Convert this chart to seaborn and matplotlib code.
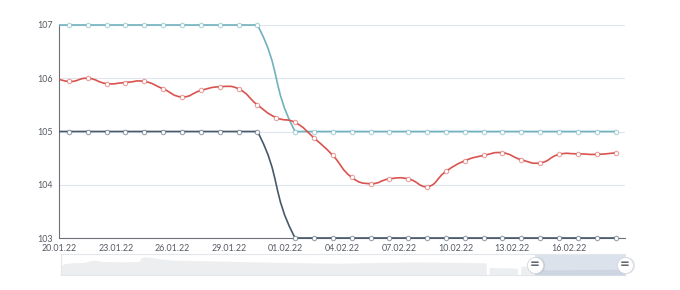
import numpy as np
import pandas as pd
import matplotlib
matplotlib.use("Agg")
import matplotlib.pyplot as plt
import matplotlib.dates as mdates
from matplotlib.path import Path
from matplotlib.patches import PathPatch, Rectangle
import seaborn as sns

# ---------------- data ----------------
dates = pd.date_range("2022-01-19 12:00", periods=31, freq="D")

red_values = [106.05, 105.94, 106.00, 105.90, 105.92, 105.94, 105.80, 105.65,
              105.77, 105.84, 105.80, 105.50, 105.26, 105.17, 104.88, 104.55,
              104.14, 104.02, 104.11, 104.11, 103.96, 104.25, 104.45, 104.55,
              104.60, 104.47, 104.41, 104.57, 104.58, 104.57, 104.60]

teal_values = [107, 107, 107, 107, 107, 107, 107, 107, 107, 107, 107, 107,
               np.nan,
               105, 105, 105, 105, 105, 105, 105, 105, 105, 105, 105, 105,
               105, 105, 105, 105, 105, 105]

dark_values = [105, 105, 105, 105, 105, 105, 105, 105, 105, 105, 105, 105,
               np.nan,
               103, 103, 103, 103, 103, 103, 103, 103, 103, 103, 103, 103,
               103, 103, 103, 103, 103, 103]

y_ticks = [103, 104, 105, 106, 107]
x_ticks = pd.date_range("2022-01-20", "2022-02-19", freq="3D")
x_tick_labels = ["20.01.22", "23.01.22", "26.01.22", "29.01.22", "01.02.22",
                 "04.02.22", "07.02.22", "10.02.22", "13.02.22", "16.02.22", ""]

# full-history data shadow of the zoom slider (relative time, value)
shadow_pos = [0.000, 0.007, 0.021, 0.039, 0.051, 0.057, 0.066, 0.074, 0.110,
              0.140, 0.143, 0.152, 0.176, 0.199, 0.259, 0.317, 0.376, 0.436,
              0.495, 0.564, 0.624, 0.684, 0.755, 0.757, 0.760, 0.766, 0.810,
              0.812, 0.816, 0.823, 0.840, 0.862, 0.986, 1.000]
shadow_val = [8.3, 11.0, 11.7, 12.0, 13.3, 14.3, 14.0, 13.0, 12.7,
              13.0, 17.0, 17.7, 15.7, 14.3, 13.7, 13.0, 12.3, 11.7,
              11.3, 12.0, 12.5, 12.3, 11.7, np.nan, 7.0, 7.0, 6.3,
              np.nan, 8.3, 8.3, 7.0, 5.0, 5.7, 5.7]
zoom_start, zoom_end = 84.0, 100.0   # percent

series = [("teal", teal_values, "#6fb1bd"),
          ("dark", dark_values, "#46596b"),
          ("red", red_values, "#d9534f")]

# ---------------- style ----------------
sns.set_theme(style="white")
plt.rcParams["font.family"] = ["Lato", "DejaVu Sans"]

W, H = 680, 290
fig = plt.figure(figsize=(W / 100, H / 100), dpi=100)
ax = fig.add_axes([59.5 / W, 1 - 238 / H, (625 - 59.5) / W, (238 - 25) / H])

ax.set_xlim(pd.Timestamp("2022-01-20"), pd.Timestamp("2022-02-19"))
ax.set_ylim(103, 107)

axis_col = "#6e7079"
for s in ["top", "right"]:
    ax.spines[s].set_visible(False)
for s in ["left", "bottom"]:
    ax.spines[s].set_color(axis_col)
    ax.spines[s].set_linewidth(0.8)
ax.set_yticks(y_ticks)
ax.set_yticklabels([str(v) for v in y_ticks])
ax.set_xticks(x_ticks)
ax.set_xticklabels(x_tick_labels)
ax.tick_params(axis="both", direction="out", length=3, width=0.75,
               color=axis_col, labelcolor="#555a62", labelsize=6.4, pad=1.5)
ax.grid(axis="y", color="#e0e6f1", linewidth=0.8)
ax.grid(axis="x", visible=False)
ax.set_facecolor("white")


def smooth_path(xs, ys, smooth=0.5):
    """ECharts (v4) style smoothing with bounding-box constraint, in display space."""
    pts = ax.transData.transform(np.column_stack([xs, ys]))
    bbmin = pts.min(axis=0)
    bbmax = pts.max(axis=0)
    n = len(pts)
    verts = [pts[0]]
    codes = [Path.MOVETO]
    cp0 = pts[0].copy()
    for i in range(1, n):
        p = pts[i]
        if i < n - 1:
            prev = pts[i - 1]
            nxt = pts[i + 1]
            v = nxt - prev
            lp = np.hypot(*(p - prev))
            ln = np.hypot(*(nxt - p))
            r = ln / (ln + lp)
            cp1 = p - v * smooth * (1 - r)
        else:
            v = np.zeros(2)
            r = 0.5
            cp1 = p.copy()
        cp0 = np.clip(cp0, bbmin, bbmax)
        cp1 = np.clip(cp1, bbmin, bbmax)
        verts += [cp0, cp1, p]
        codes += [Path.CURVE4] * 3
        cp0 = p + v * smooth * r
    verts = ax.transData.inverted().transform(np.array(verts))
    return Path(verts, codes)


clip_rect = Rectangle((0, -0.05), 1.0, 1.1, transform=ax.transAxes)
xnum = mdates.date2num(dates.to_pydatetime())
xmin = pd.Timestamp("2022-01-20")

for z, (name, vals, col) in enumerate(series):
    vals = np.array(vals, dtype=float)
    ok = ~np.isnan(vals)
    path = smooth_path(xnum[ok], vals[ok])
    patch = PathPatch(path, fill=False, edgecolor=col, linewidth=1.2,
                      zorder=3 + z, capstyle="round", joinstyle="round")
    ax.add_patch(patch)
    patch.set_clip_path(clip_rect)
    df = pd.DataFrame({"date": dates, "value": vals})
    df = df[(df["date"] >= xmin) & df["value"].notna()]
    sns.scatterplot(data=df, x="date", y="value", ax=ax, s=10, color="white",
                    edgecolor=matplotlib.colors.to_rgba(col, 0.55),
                    linewidth=0.8, zorder=3.5 + z, clip_on=False, legend=False)

ax.set_xlim(pd.Timestamp("2022-01-20"), pd.Timestamp("2022-02-19"))
ax.set_ylim(103, 107)
ax.set_xlabel("")
ax.set_ylabel("")

# ---------------- zoom slider ----------------
sax = fig.add_axes([61 / W, 1 - 275 / H, 564 / W, 21 / H])
sax.set_xlim(0, 1)
sax.set_ylim(0, 21)
sax.set_xticks([])
sax.set_yticks([])
for s in sax.spines.values():
    s.set_color("#e3e6eb")
    s.set_linewidth(0.8)

sp = np.array(shadow_pos)
sv = np.array(shadow_val)
sel0, sel1 = zoom_start / 100, zoom_end / 100
sax.fill_between(sp, 0, sv, color="#eceef0", linewidth=0, zorder=1)
sax.axvspan(sel0, sel1, color="#dbe2ec", linewidth=0, zorder=2)
mask = sp >= sel0 - 1e-9
sax.fill_between(sp, 0, sv, where=mask, interpolate=True, color="#cdd5e2",
                 linewidth=0, zorder=3)

for hx in [sel0, sel1]:
    sax.scatter([hx + 0.002], [9.7], s=150, color="#000000", alpha=0.10,
                linewidth=0, zorder=5, clip_on=False)
    sax.scatter([hx], [10.5], s=135, color="white", edgecolor="#d3d7dd",
                linewidth=0.6, zorder=6, clip_on=False)
    sax.text(hx, 10.8, "=", ha="center", va="center", fontsize=8.5,
             color="#62666e", zorder=7, fontweight="bold",
             family=["DejaVu Sans"])

fig.savefig("out.png", dpi=100)
